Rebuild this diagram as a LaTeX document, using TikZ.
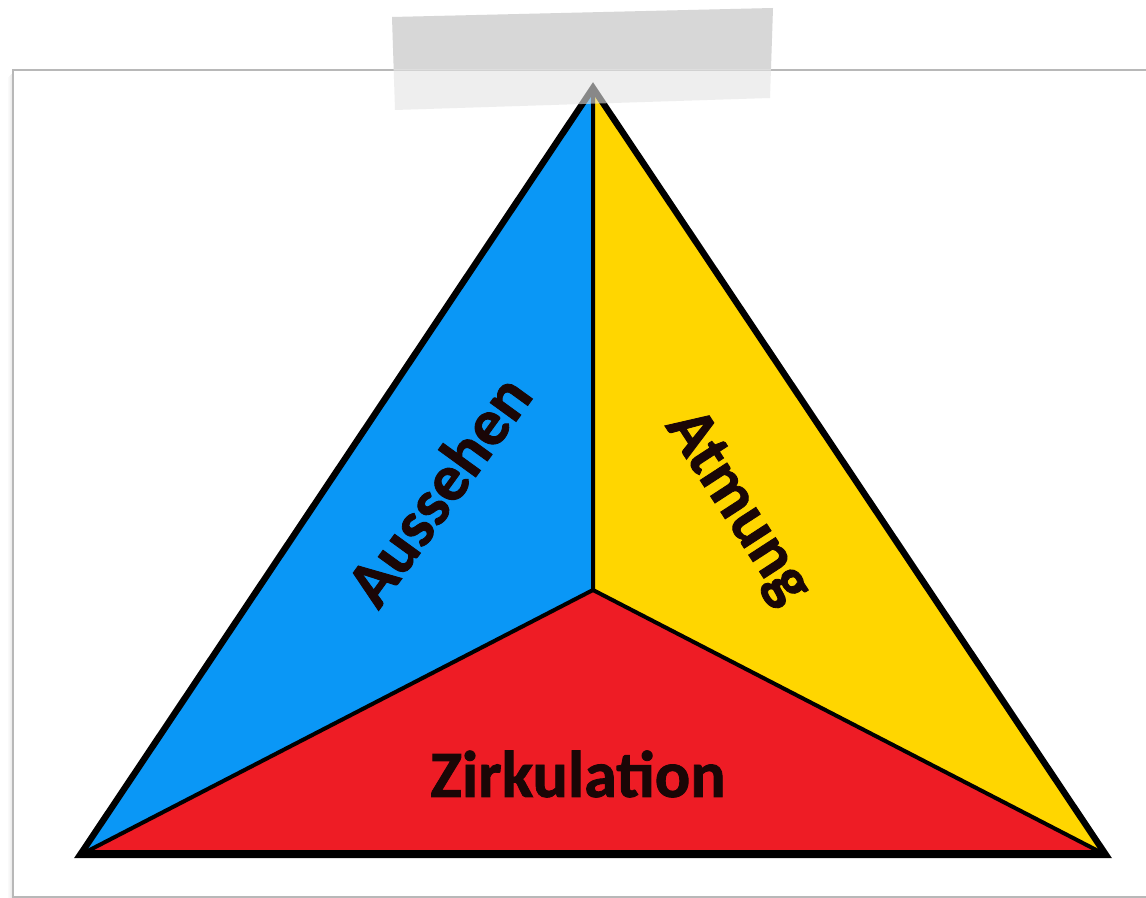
\documentclass[tikz,border=0pt]{standalone}
\usepackage{fontspec}
\usetikzlibrary{calc}
\setmainfont{Carlito}
\newfontfamily\labelfont{Carlito}[UprightFont=* Bold,FakeBold=1.3]
\definecolor{tblue}{HTML}{0A97F6}
\definecolor{tyellow}{HTML}{FFD600}
\definecolor{tred}{HTML}{EE1C25}
\definecolor{tink}{HTML}{1A0606}
\definecolor{paperline}{HTML}{B8B8B8}
\definecolor{tapetop}{HTML}{D7D7D7}
\definecolor{tapelow}{HTML}{E3E3E3}
\begin{document}
\begin{tikzpicture}[x=0.75pt,y=-0.75pt,
  sector/.style={draw=black,line width=3pt,line join=round},
  label/.style={inner sep=0pt,text=tink,font=\labelfont\fontsize{49.5}{58}\selectfont}]
\useasboundingbox (0,0) rectangle (1146,898);
\fill[white] (0,0) rectangle (1146,898);
% paper shadow
\foreach \d/\o in {1/0.10,2/0.07,3/0.05,4/0.03,5/0.02}
  \draw[black,opacity=\o,line width=0.75pt] (13-\d,72+\d) -- (13-\d,898);
% paper
\draw[paperline,line width=1.6pt] (1147,70) -- (13,70) -- (13,897) -- (1147,897);
% triangle
\coordinate (A) at (593,88);
\coordinate (L) at (80,855);
\coordinate (R) at (1106,855);
\coordinate (C) at (593,590);
\fill[tblue] (A) -- (C) -- (L) -- cycle;
\fill[tyellow] (A) -- (R) -- (C) -- cycle;
\fill[tred] (L) -- (C) -- (R) -- cycle;
\draw[sector] (A) -- (C) (L) -- (C) -- (R);
\draw[black,line width=4.8pt,line join=miter] (A) -- (L) -- (R) -- cycle;
\draw[black,line width=2.5pt] ($(L)+(0,-3)$) -- ($(R)+(0,-3)$);
% labels
\node[label,rotate=54] (aus) at (438,490) {Aussehen};
\node[label,rotate=-57] (atm) at (737,508) {Atmung};
\node[label] (zirk) at (578,774) {Zirkulation};
% tape
\begin{scope}
  \clip (0,0) rectangle (1146,70);
  \fill[tapetop] (392,17) -- (773,8) -- (770,98) -- (395,110) -- cycle;
\end{scope}
\begin{scope}
  \clip (0,70) rectangle (1146,200);
  \fill[tapelow,opacity=0.6] (392,17) -- (773,8) -- (770,98) -- (395,110) -- cycle;
\end{scope}
\end{tikzpicture}
\end{document}
